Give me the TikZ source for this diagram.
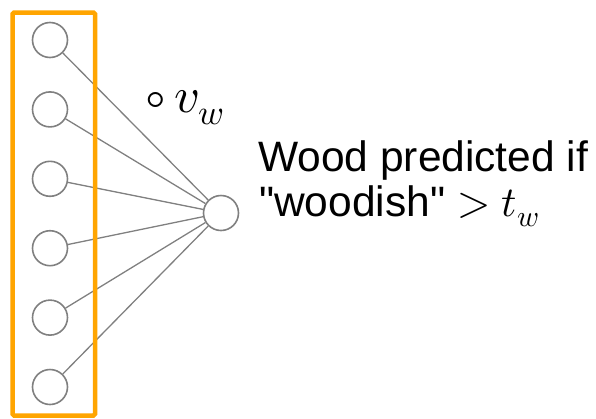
\documentclass[tikz,border=0pt]{standalone}
\usepackage{amsmath}
\usepackage{fontspec}
\usepackage{unicode-math}
\setmainfont{Liberation Sans}
\setmathfont{Latin Modern Math}
\usepackage{tikz}
\usepackage{xcolor}

\definecolor{boxorange}{RGB}{255,165,0}
\definecolor{wiregray}{RGB}{128,128,128}

\tikzset{
  unit/.style={circle,draw=wiregray,fill=white,line width=1.6pt,
               minimum size=35pt,inner sep=0pt},
  wire/.style={wiregray,line width=1.3pt},
}

\begin{document}
\begin{tikzpicture}[x=1pt,y=-1pt]
        \def\xin{50}
        \def\dy{69.4}

        \useasboundingbox (0,0) rectangle (596,418);

        %------------------
        % 入力ユニット
        %------------------

        \node[unit] (in1) at (\xin,40) {};
        \node[unit] (in2) at (\xin,{40+\dy}) {};
        \node[unit] (in3) at (\xin,{40+2*\dy}) {};
        \node[unit] (in4) at (\xin,{40+3*\dy}) {};
        \node[unit] (in5) at (\xin,{40+4*\dy}) {};
        \node[unit] (in6) at (\xin,{40+5*\dy}) {};

        % 出力ユニット
        \node[unit] (out) at (221,213) {};

        %------------------
        % 結合
        %------------------

        \draw[wire] (in1)--(out);
        \draw[wire] (in2)--(out);
        \draw[wire] (in3)--(out);
        \draw[wire] (in4)--(out);
        \draw[wire] (in5)--(out);
        \draw[wire] (in6)--(out);

        % 入力の枠
        \draw[boxorange,line width=4.5pt,rounded corners=1.5pt]
          (12.5,12.5) rectangle (95,415.5);

        %------------------
        % ラベル
        %------------------

        \node[anchor=base west,inner sep=0pt,font=\fontsize{50}{54}\selectfont]
          (weight) at (145,112) {\(\circ\, v_w\)};
        \node[anchor=base west,inner sep=0pt,font=\fontsize{42.5}{46}\selectfont]
          (rule1) at (258,171) {Wood predicted if};
        \node[anchor=base west,inner sep=0pt,font=\fontsize{42.5}{46}\selectfont]
          (rule2) at (259,216) {\textquotedbl woodish\textquotedbl{} \(> t_w\)};
      \end{tikzpicture}
\end{document}
